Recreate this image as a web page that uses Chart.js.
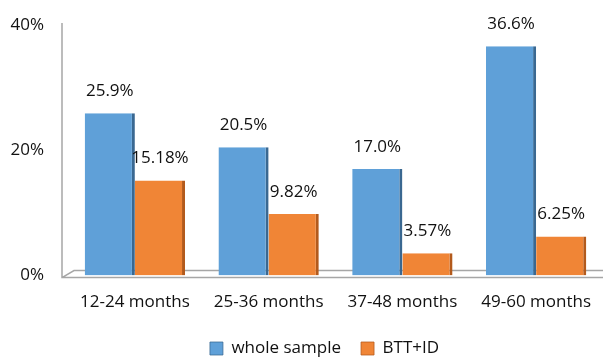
<!DOCTYPE html>
<html>
<head>
<meta charset="utf-8">
<script src="https://cdn.jsdelivr.net/npm/chart.js@4.4.0/dist/chart.umd.min.js"></script>
<style>
  body { margin: 0; background: #fff; }
  #wrap { width: 603px; height: 361px; }
</style>
</head>
<body>
<div id="wrap"><canvas id="myChart"></canvas></div>
<script>
var categories = ['12-24 months', '25-36 months', '37-48 months', '49-60 months'];
var wholeSample = [25.9, 20.5, 17.0, 36.6];
var bttId = [15.18, 9.82, 3.57, 6.25];
var yTicks = [0, 20, 40];

// labels above each bar
var barLabels = {
  id: 'barLabels',
  afterDatasetsDraw: function (chart) {
    var ctx = chart.ctx;
    ctx.save();
    ctx.font = '17px "Open Sans", sans-serif';
    ctx.fillStyle = '#111';
    ctx.textAlign = 'center';
    ctx.textBaseline = 'middle';
    chart.data.datasets.forEach(function (ds, i) {
      var meta = chart.getDatasetMeta(i);
      meta.data.forEach(function (bar, j) {
        var txt = ds.data[j].toFixed(ds.decimals) + '%';
        ctx.fillText(txt, bar.x, bar.y - 22);
      });
    });
    ctx.restore();
  }
};

// grey wall line and 3d floor under the bars
var floor = {
  id: 'floor',
  beforeDatasetsDraw: function (chart) {
    var a = chart.chartArea;
    var ctx = chart.ctx;
    var x0 = a.left - 6;
    ctx.save();
    ctx.strokeStyle = '#a6a6a6';
    ctx.lineWidth = 1.5;
    ctx.beginPath();
    ctx.moveTo(x0, a.top - 2);
    ctx.lineTo(x0, a.bottom + 2);
    ctx.lineTo(a.right, a.bottom + 2);
    ctx.moveTo(x0, a.bottom + 2);
    ctx.lineTo(x0 + 12, a.bottom - 5);
    ctx.lineTo(a.right, a.bottom - 5);
    ctx.stroke();
    ctx.restore();
  }
};

// legend sits a bit right of the canvas centre
var legendShift = {
  id: 'legendShift',
  beforeDraw: function (chart) {
    chart.legend.left = 46;
  }
};

var ctx = document.getElementById('myChart').getContext('2d');
var myChart = new Chart(ctx, {
  type: 'bar',
  data: {
    labels: categories,
    datasets: [{
      label: 'whole sample',
      data: wholeSample,
      decimals: 1,
      backgroundColor: '#5fa0d8',
      borderColor: '#3a6891',
      borderWidth: { right: 3, left: 0, top: 0, bottom: 0 },
      borderSkipped: false
    }, {
      label: 'BTT+ID',
      data: bttId,
      decimals: 2,
      backgroundColor: '#f08536',
      borderColor: '#b35a1c',
      borderWidth: { right: 3, left: 0, top: 0, bottom: 0 },
      borderSkipped: false
    }]
  },
  options: {
    responsive: true,
    maintainAspectRatio: false,
    animation: false,
    layout: { padding: { top: 25, right: 0, bottom: -6, left: 0 } },
    datasets: { bar: { categoryPercentage: 0.75, barPercentage: 1 } },
    plugins: {
      tooltip: { enabled: false },
      legend: {
        position: 'bottom',
        labels: {
          boxWidth: 13,
          boxHeight: 13,
          padding: 20,
          color: '#111',
          font: { size: 17, family: '"Open Sans", sans-serif' }
        }
      }
    },
    scales: {
      x: {
        grid: { display: false },
        border: { display: false },
        ticks: { color: '#111', padding: 8, font: { size: 17, family: '"Open Sans", sans-serif' } }
      },
      y: {
        min: 0,
        max: 40,
        afterBuildTicks: function (scale) {
          scale.ticks = yTicks.map(function (v) { return { value: v }; });
        },
        afterFit: function (scale) {
          scale.width = 68;
          scale.paddingTop = 0;
          scale.paddingBottom = 0;
        },
        grid: { display: false, drawTicks: false },
        border: { display: false },
        ticks: {
          color: '#111',
          padding: 24,
          font: { size: 17, family: '"Open Sans", sans-serif' },
          callback: function (v) { return v + '%'; }
        }
      }
    }
  },
  plugins: [floor, barLabels, legendShift]
});
</script>
</body>
</html>
